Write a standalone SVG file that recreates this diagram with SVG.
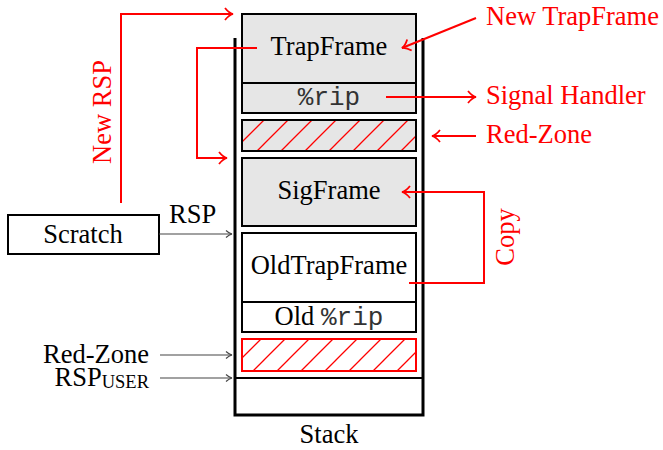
<svg xmlns="http://www.w3.org/2000/svg" width="663" height="450" viewBox="0 0 663 450">
<style>
.t{font-family:"Liberation Serif","Times New Roman",serif;font-size:26.5px;fill:#000}
.m{font-family:"Liberation Mono","Courier New",monospace;font-size:26px;fill:#333}
.r{fill:#ff0000}
.box{stroke:#000;stroke-width:2}
.g{fill:#e6e6e6}
.w{fill:#fff}
.red{stroke:#ff0000;stroke-width:2;fill:none}
.blk{stroke:#444;stroke-width:1.1;fill:none}
</style>
<defs>
<pattern id="hatch" patternUnits="userSpaceOnUse" width="24" height="24">
<path d="M0,24 L24,0 M-6,6 L6,-6 M18,30 L30,18" fill="none" style="stroke:#ff0000;stroke-width:1.3"/>
</pattern>
<marker id="ar" markerWidth="12" markerHeight="14" refX="10" refY="7" orient="auto" markerUnits="userSpaceOnUse">
<path d="M2,1 Q6,6 10,7 Q6,8 2,13" fill="none" stroke="#ff0000" stroke-width="1.8"/>
</marker>
<marker id="ab" markerWidth="10" markerHeight="10" refX="8" refY="5" orient="auto" markerUnits="userSpaceOnUse">
<path d="M2,1.5 Q5,4.3 8,5 Q5,5.7 2,8.5" fill="none" stroke="#444" stroke-width="1.1"/>
</marker>
</defs>

<g id="stack">
<path d="M235,38 V415 H423 V38" fill="none" stroke="#000" stroke-width="3"/>
<line x1="235" y1="378" x2="423" y2="378" stroke="#000" stroke-width="2"/>
<text class="t" x="329" y="443" text-anchor="middle">Stack</text>
</g>

<g id="trapframe">
<rect class="box g" x="242" y="14" width="174" height="69"/>
<text class="t" x="329" y="55" text-anchor="middle">TrapFrame</text>
</g>
<g id="rip">
<rect class="box g" x="242" y="83" width="174" height="30"/>
<text class="m" x="329" y="105" text-anchor="middle">%rip</text>
</g>
<g id="redzone-top">
<rect class="g" x="242" y="120" width="174" height="31"/>
<rect x="242" y="120" width="174" height="31" fill="url(#hatch)"/>
<rect class="box" x="242" y="120" width="174" height="31" fill="none"/>
</g>
<g id="sigframe">
<rect class="box g" x="242" y="158" width="174" height="68"/>
<text class="t" x="329" y="199" text-anchor="middle">SigFrame</text>
</g>
<g id="oldtrapframe">
<rect class="box w" x="242" y="233" width="174" height="69"/>
<text class="t" x="329" y="274" text-anchor="middle">OldTrapFrame</text>
</g>
<g id="oldrip">
<rect class="box w" x="242" y="302" width="174" height="30"/>
<text x="329" y="325" text-anchor="middle"><tspan class="t">Old </tspan><tspan class="m">%rip</tspan></text>
</g>
<g id="redzone-bottom">
<rect x="242" y="339" width="174" height="32" fill="#fff"/>
<rect x="242" y="339" width="174" height="32" fill="url(#hatch)"/>
<rect x="242" y="339" width="174" height="32" fill="none" stroke="#ff0000" stroke-width="2"/>
</g>
<g id="scratch">
<rect class="box" x="8" y="215" width="151" height="39" fill="#fff" stroke-width="2.5"/>
<text class="t" x="83" y="243" text-anchor="middle">Scratch</text>
</g>

<g id="labels">
<text class="t" x="169" y="223">RSP</text>
<text class="t" x="149" y="363" text-anchor="end">Red-Zone</text>
<text class="t" x="149" y="386" text-anchor="end">RSP<tspan font-size="18.5" dy="2">USER</tspan></text>
<text class="t r" x="486" y="25">New TrapFrame</text>
<text class="t r" x="486" y="104">Signal Handler</text>
<text class="t r" x="486" y="143">Red-Zone</text>
<text class="t r" transform="translate(111,112) rotate(-90)" text-anchor="middle">New RSP</text>
<text class="t r" transform="translate(514,237) rotate(-90)" text-anchor="middle">Copy</text>
</g>

<g id="connectors">
<line class="blk" x1="159" y1="234" x2="232" y2="234" marker-end="url(#ab)"/>
<line class="blk" x1="160" y1="355" x2="232" y2="355" marker-end="url(#ab)"/>
<line class="blk" x1="160" y1="378" x2="232" y2="378" marker-end="url(#ab)"/>
<path class="red" d="M121,203 V14 H233" marker-end="url(#ar)"/>
<path class="red" d="M257,48 H197 V158 H227" marker-end="url(#ar)"/>
<line class="red" x1="476" y1="18" x2="402" y2="48" marker-end="url(#ar)"/>
<line class="red" x1="386" y1="97" x2="476" y2="97" marker-end="url(#ar)"/>
<line class="red" x1="476" y1="136" x2="432" y2="136" marker-end="url(#ar)"/>
<path class="red" d="M409,283 H484 V192 H402" marker-end="url(#ar)"/>
</g>
</svg>
